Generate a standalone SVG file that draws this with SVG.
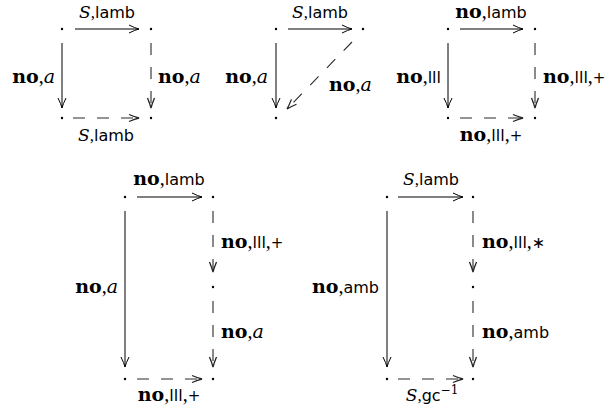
<svg xmlns="http://www.w3.org/2000/svg" width="609" height="412" viewBox="0 0 609 412">
<style>
.bg{fill:#fff}
.dot{fill:#000}
.sol{fill:none;stroke:#000;stroke-width:1;marker-end:url(#ah)}
.dsh{fill:none;stroke:#2a2a2a;stroke-width:1.1;stroke-dasharray:12 12;marker-end:url(#ahd)}
text{fill:#000}
.bf{font-family:"DejaVu Serif",serif;font-weight:bold;font-size:19px}
.rm{font-family:"Liberation Serif",serif;font-size:20px}
.it{font-family:"DejaVu Serif",serif;font-style:italic;font-size:19px}
.sf{font-family:"DejaVu Sans",sans-serif;font-size:16px}
.cs{font-family:"DejaVu Serif",serif;font-style:italic;font-size:17px}
.rs{font-family:"Liberation Serif",serif;font-size:17px}
.pl{font-family:"DejaVu Sans",sans-serif;font-size:15px}
.ast{font-family:"DejaVu Sans",sans-serif;font-size:16px}
.sup{font-family:"DejaVu Serif",serif;font-size:12px}
</style>
<defs>
<marker id="ah" markerUnits="userSpaceOnUse" markerWidth="12" markerHeight="10" refX="0" refY="0" orient="auto" overflow="visible">
<path d="M-10,-4 Q-4,-1 0,0 Q-4,1 -10,4" fill="none" stroke="#000" stroke-width="1"/>
</marker>
<marker id="ahd" markerUnits="userSpaceOnUse" markerWidth="12" markerHeight="10" refX="0" refY="0" orient="auto" overflow="visible">
<path d="M-10,-3.5 Q-4,-1 0,0 Q-4,1 -10,3.5" fill="none" stroke="#222" stroke-width="1.3"/>
</marker>
</defs>
<rect class="bg" x="0" y="0" width="609" height="412"/>

<g id="nodes">
<g id="d1-tl"><circle class="dot" cx="62" cy="29" r="1.2"/></g>
<g id="d1-tr"><circle class="dot" cx="151" cy="29" r="1.2"/></g>
<g id="d1-bl"><circle class="dot" cx="62" cy="118" r="1.2"/></g>
<g id="d1-br"><circle class="dot" cx="151" cy="118" r="1.2"/></g>
<g id="d2-tl"><circle class="dot" cx="276" cy="29" r="1.2"/></g>
<g id="d2-tr"><circle class="dot" cx="363" cy="29" r="1.2"/></g>
<g id="d2-bl"><circle class="dot" cx="276" cy="118" r="1.2"/></g>
<g id="d3-tl"><circle class="dot" cx="448" cy="29" r="1.2"/></g>
<g id="d3-tr"><circle class="dot" cx="535" cy="29" r="1.2"/></g>
<g id="d3-bl"><circle class="dot" cx="448" cy="118" r="1.2"/></g>
<g id="d3-br"><circle class="dot" cx="535" cy="118" r="1.2"/></g>
<g id="d4-tl"><circle class="dot" cx="125" cy="197" r="1.2"/></g>
<g id="d4-tr"><circle class="dot" cx="213" cy="197" r="1.2"/></g>
<g id="d4-mr"><circle class="dot" cx="213" cy="287" r="1.2"/></g>
<g id="d4-bl"><circle class="dot" cx="125" cy="379" r="1.2"/></g>
<g id="d4-br"><circle class="dot" cx="213" cy="379" r="1.2"/></g>
<g id="d5-tl"><circle class="dot" cx="387" cy="197" r="1.2"/></g>
<g id="d5-tr"><circle class="dot" cx="473" cy="197" r="1.2"/></g>
<g id="d5-mr"><circle class="dot" cx="473" cy="287" r="1.2"/></g>
<g id="d5-bl"><circle class="dot" cx="387" cy="379" r="1.2"/></g>
<g id="d5-br"><circle class="dot" cx="473" cy="379" r="1.2"/></g>
</g>

<g id="connectors">
<path class="sol" d="M75,29 H139"/>
<path class="sol" d="M62,43 V108"/>
<path class="dsh" d="M151,43 V108"/>
<path class="dsh" d="M73,118 H139"/>

<path class="sol" d="M288,29 H352"/>
<path class="sol" d="M276,43 V108"/>
<path class="dsh" d="M352,42 L287,109"/>

<path class="sol" d="M460,29 H523"/>
<path class="sol" d="M448,43 V108"/>
<path class="dsh" d="M535,43 V108"/>
<path class="dsh" d="M460,118 H523"/>

<path class="sol" d="M137,197 H202"/>
<path class="sol" d="M125,211 V367"/>
<path class="dsh" d="M213,211 V272"/>
<path class="dsh" d="M213,301 V367"/>
<path class="dsh" d="M137,379 H202"/>

<path class="sol" d="M398,197 H463"/>
<path class="sol" d="M387,211 V367"/>
<path class="dsh" d="M473,211 V272"/>
<path class="dsh" d="M473,301 V367"/>
<path class="dsh" d="M398,379 H463"/>
</g>

<g id="labels">
<text x="107" y="18" text-anchor="middle"><tspan class="cs">S</tspan><tspan class="rs">,</tspan><tspan class="sf">lamb</tspan></text>
<text x="55" y="83" text-anchor="end"><tspan class="bf">no</tspan><tspan class="rm">,</tspan><tspan class="it">a</tspan></text>
<text x="158" y="83"><tspan class="bf">no</tspan><tspan class="rm">,</tspan><tspan class="it">a</tspan></text>
<text x="106" y="141" text-anchor="middle"><tspan class="cs">S</tspan><tspan class="rs">,</tspan><tspan class="sf">lamb</tspan></text>

<text x="320" y="18" text-anchor="middle"><tspan class="cs">S</tspan><tspan class="rs">,</tspan><tspan class="sf">lamb</tspan></text>
<text x="268" y="83" text-anchor="end"><tspan class="bf">no</tspan><tspan class="rm">,</tspan><tspan class="it">a</tspan></text>
<text x="329" y="91"><tspan class="bf">no</tspan><tspan class="rm">,</tspan><tspan class="it">a</tspan></text>

<text x="491" y="18" text-anchor="middle"><tspan class="bf">no</tspan><tspan class="rm">,</tspan><tspan class="sf">lamb</tspan></text>
<text x="441" y="83" text-anchor="end"><tspan class="bf">no</tspan><tspan class="rm">,</tspan><tspan class="sf">lll</tspan></text>
<text x="543" y="83"><tspan class="bf">no</tspan><tspan class="rm">,</tspan><tspan class="sf">lll</tspan><tspan class="rm">,</tspan><tspan class="pl">+</tspan></text>
<text x="491" y="141" text-anchor="middle"><tspan class="bf">no</tspan><tspan class="rm">,</tspan><tspan class="sf">lll</tspan><tspan class="rm">,</tspan><tspan class="pl">+</tspan></text>

<text x="169" y="185" text-anchor="middle"><tspan class="bf">no</tspan><tspan class="rm">,</tspan><tspan class="sf">lamb</tspan></text>
<text x="118" y="293" text-anchor="end"><tspan class="bf">no</tspan><tspan class="rm">,</tspan><tspan class="it">a</tspan></text>
<text x="221" y="248"><tspan class="bf">no</tspan><tspan class="rm">,</tspan><tspan class="sf">lll</tspan><tspan class="rm">,</tspan><tspan class="pl">+</tspan></text>
<text x="221" y="338"><tspan class="bf">no</tspan><tspan class="rm">,</tspan><tspan class="it">a</tspan></text>
<text x="169" y="401" text-anchor="middle"><tspan class="bf">no</tspan><tspan class="rm">,</tspan><tspan class="sf">lll</tspan><tspan class="rm">,</tspan><tspan class="pl">+</tspan></text>

<text x="431" y="185" text-anchor="middle"><tspan class="cs">S</tspan><tspan class="rs">,</tspan><tspan class="sf">lamb</tspan></text>
<text x="379" y="293" text-anchor="end"><tspan class="bf">no</tspan><tspan class="rm">,</tspan><tspan class="sf">amb</tspan></text>
<text x="482" y="248"><tspan class="bf">no</tspan><tspan class="rm">,</tspan><tspan class="sf">lll</tspan><tspan class="rm">,</tspan><tspan class="ast">∗</tspan></text>
<text x="482" y="338"><tspan class="bf">no</tspan><tspan class="rm">,</tspan><tspan class="sf">amb</tspan></text>
<text x="432" y="401" text-anchor="middle"><tspan class="cs">S</tspan><tspan class="rs">,</tspan><tspan class="sf">gc</tspan><tspan class="sup" dy="-7">−1</tspan></text>
</g>
</svg>
